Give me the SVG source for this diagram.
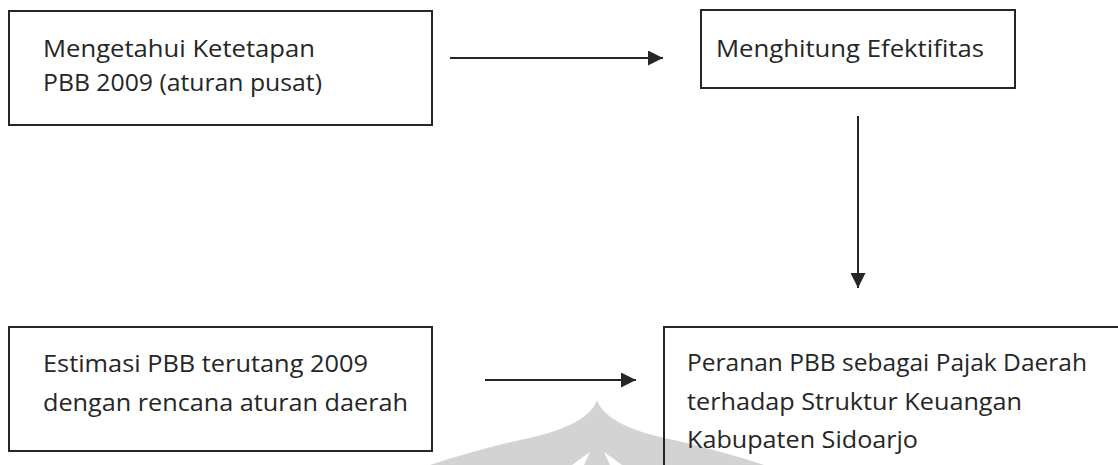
<svg xmlns="http://www.w3.org/2000/svg" width="1118" height="465" viewBox="0 0 1118 465">
<defs>
<style>
.box{fill:none;stroke:#262626;stroke-width:2}
.t{font-family:"Open Sans","Noto Sans",sans-serif;font-size:23px;fill:#262626}
.c{stroke:#262626;stroke-width:2;fill:none}
.wm{fill:#d3d3d3}
</style>
<marker id="ah" viewBox="0 0 10 10" refX="10" refY="5" markerWidth="7.5" markerHeight="7.5" markerUnits="strokeWidth" orient="auto">
<path d="M0,0 L10,5 L0,10 z" fill="#262626"/>
</marker>
</defs>
<rect width="1118" height="465" fill="#ffffff"/>
<g id="watermark">
<path class="wm" d="M597,400 C590,420 560,432 520,440 C490,447 460,455 430,465 L764,465 C734,455 704,447 674,440 C634,432 604,420 597,400 Z"/>
<path d="M590,452 L572,465 L584,465 Z M604,452 L622,465 L610,465 Z" fill="#ffffff"/>
</g>
<g id="n1">
<rect class="box" x="9" y="11" width="423" height="114"/>
<text class="t" x="43" y="57" textLength="272" lengthAdjust="spacingAndGlyphs">Mengetahui Ketetapan</text>
<text class="t" x="43" y="91" textLength="279" lengthAdjust="spacingAndGlyphs">PBB 2009 (aturan pusat)</text>
</g>
<g id="n2">
<rect class="box" x="701" y="10" width="314" height="78"/>
<text class="t" x="716" y="57" textLength="268" lengthAdjust="spacingAndGlyphs">Menghitung Efektifitas</text>
</g>
<g id="n3">
<rect class="box" x="9" y="327" width="423" height="124"/>
<text class="t" x="43" y="372" textLength="325" lengthAdjust="spacingAndGlyphs">Estimasi PBB terutang 2009</text>
<text class="t" x="43" y="411" textLength="365" lengthAdjust="spacingAndGlyphs">dengan rencana aturan daerah</text>
</g>
<g id="n4">
<rect class="box" x="664" y="327" width="470" height="160"/>
<text class="t" x="687" y="371" textLength="400" lengthAdjust="spacingAndGlyphs">Peranan PBB sebagai Pajak Daerah</text>
<text class="t" x="687" y="410" textLength="335" lengthAdjust="spacingAndGlyphs">terhadap Struktur Keuangan</text>
<text class="t" x="687" y="448" textLength="231" lengthAdjust="spacingAndGlyphs">Kabupaten Sidoarjo</text>
</g>
<g id="connectors">
<line class="c" x1="450" y1="58" x2="663" y2="58" marker-end="url(#ah)"/>
<line class="c" x1="858" y1="116" x2="858" y2="288" marker-end="url(#ah)"/>
<line class="c" x1="485" y1="380" x2="636" y2="380" marker-end="url(#ah)"/>
</g>
</svg>
